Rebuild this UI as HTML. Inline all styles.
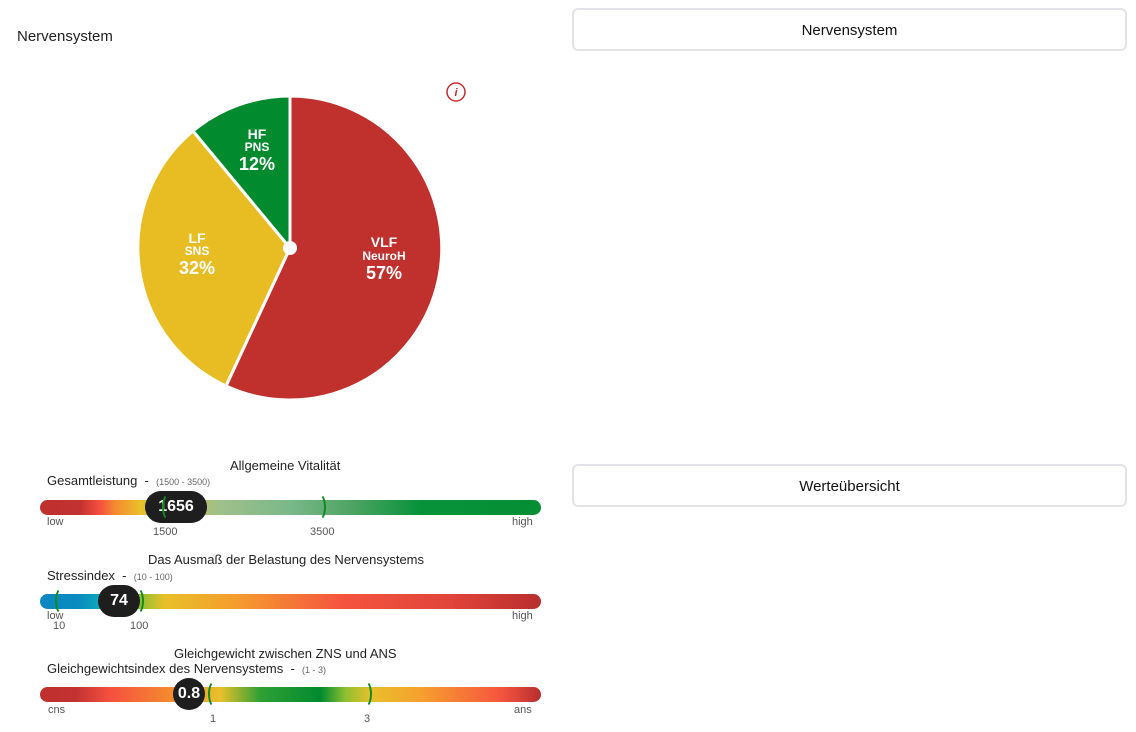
<!DOCTYPE html>
<html><head><meta charset="utf-8">
<style>
*{margin:0;padding:0;box-sizing:border-box}
body{width:1136px;height:732px;background:#fff;position:relative;font-family:"Liberation Sans",sans-serif;color:#222;overflow:hidden}
.abs{position:absolute}
.btn{position:absolute;left:572px;width:555px;height:43px;border:2px solid #e2e2e8;border-radius:6px;font-size:15px;text-align:center;line-height:41px;color:#111}
.bar{position:absolute;left:40px;width:501px;height:15px;border-radius:8px}
.t{position:absolute;font-size:13px;white-space:nowrap}
.s{position:absolute;font-size:11px;color:#555;white-space:nowrap}
.r{font-size:9px;color:#666}
.badge{position:absolute;background:#1e1e1e;color:#fff;font-weight:bold;font-size:16px;text-align:center;border-radius:16px}
.br{position:absolute;width:14px;height:28px;border:2px solid #118a22;border-radius:50%}
</style></head><body>
<div class="abs" style="left:17px;top:28px;font-size:15px">Nervensystem</div>
<div class="btn" style="top:8px">Nervensystem</div>
<div class="btn" style="top:464px">Werteübersicht</div>

<svg class="abs" style="left:0;top:0" width="560" height="440">
<path d="M290,248 L290,96 A152,152 0 1 1 226,386 Z" fill="#c0302c" stroke="#fff" stroke-width="3"/>
<path d="M290,248 L226,386 A152,152 0 0 1 193,131 Z" fill="#e8bd24" stroke="#fff" stroke-width="3"/>
<path d="M290,248 L193,131 A152,152 0 0 1 290,96 Z" fill="#028a2f" stroke="#fff" stroke-width="3"/>
<circle cx="290" cy="248" r="7" fill="#fff"/>
<g fill="#fff" font-family="Liberation Sans,sans-serif" text-anchor="middle" font-weight="bold">
<text x="257" y="139" font-size="14">HF</text><text x="257" y="151" font-size="12">PNS</text><text x="257" y="170" font-size="18">12%</text>
<text x="197" y="243" font-size="14">LF</text><text x="197" y="255" font-size="12">SNS</text><text x="197" y="274" font-size="18">32%</text>
<text x="384" y="247" font-size="14">VLF</text><text x="384" y="260" font-size="12">NeuroH</text><text x="384" y="279" font-size="18">57%</text>
</g>
<circle cx="456" cy="92" r="9" fill="none" stroke="#c0302c" stroke-width="1.5"/>
<text x="456" y="96" font-size="11" fill="#c0302c" text-anchor="middle" font-style="italic" font-weight="bold">i</text>
</svg>

<!-- bar 1 -->
<div class="t" style="left:230px;top:458px">Allgemeine Vitalität</div>
<div class="t" style="left:47px;top:473px">Gesamtleistung &nbsp;- &nbsp;<span class="r">(1500 - 3500)</span></div>
<div class="bar" style="top:500px;background:linear-gradient(90deg,#bf2f2c 0%,#c23230 8%,#f5503f 12%,#f58a2f 15%,#e8c02a 20%,#c9c24a 26%,#9fc08a 36%,#7ab88a 50%,#4fa464 62%,#07923a 76%,#068e34 100%)"></div>
<div class="badge" style="left:145px;top:491px;width:62px;height:32px;line-height:32px">1656</div>
<div class="br" style="left:162px;top:493px;border-color:transparent transparent transparent #118a22"></div>
<div class="br" style="left:312px;top:493px;border-color:transparent #118a22 transparent transparent"></div>
<div class="s" style="left:47px;top:516px">low</div>
<div class="s" style="left:512px;top:516px">high</div>
<div class="s" style="left:153px;top:526px">1500</div>
<div class="s" style="left:310px;top:526px">3500</div>

<!-- bar 2 -->
<div class="t" style="left:148px;top:552px">Das Ausmaß der Belastung des Nervensystems</div>
<div class="t" style="left:47px;top:568px">Stressindex &nbsp;- &nbsp;<span class="r">(10 - 100)</span></div>
<div class="bar" style="top:594px;background:linear-gradient(90deg,#0a86c0 0%,#0a8cbf 8%,#10b0b8 13%,#8fc030 20%,#e8c02a 25%,#f59a2e 40%,#f5553f 60%,#e0443a 82%,#b82e2e 100%)"></div>
<div class="badge" style="left:98px;top:585px;width:42px;height:32px;line-height:32px">74</div>
<div class="br" style="left:55px;top:587px;border-color:transparent transparent transparent #118a22"></div>
<div class="br" style="left:130px;top:587px;border-color:transparent #118a22 transparent transparent"></div>
<div class="s" style="left:47px;top:610px">low</div>
<div class="s" style="left:512px;top:610px">high</div>
<div class="s" style="left:53px;top:620px">10</div>
<div class="s" style="left:130px;top:620px">100</div>

<!-- bar 3 -->
<div class="t" style="left:174px;top:646px">Gleichgewicht zwischen ZNS und ANS</div>
<div class="t" style="left:47px;top:661px">Gleichgewichtsindex des Nervensystems &nbsp;- &nbsp;<span class="r">(1 - 3)</span></div>
<div class="bar" style="top:687px;background:linear-gradient(90deg,#bf2f2c 0%,#c23230 7%,#f5503f 14%,#f58a2f 26%,#e8c02a 36%,#2fa035 44%,#028a2f 56%,#8fc030 61%,#e8c02a 66%,#f5a02e 76%,#f5553f 92%,#b82e2e 100%)"></div>
<div class="badge" style="left:173px;top:678px;width:32px;height:32px;line-height:32px;border-radius:50%">0.8</div>
<div class="br" style="left:208px;top:680px;border-color:transparent transparent transparent #118a22"></div>
<div class="br" style="left:358px;top:680px;border-color:transparent #118a22 transparent transparent"></div>
<div class="s" style="left:48px;top:704px">cns</div>
<div class="s" style="left:514px;top:704px">ans</div>
<div class="s" style="left:210px;top:713px">1</div>
<div class="s" style="left:364px;top:713px">3</div>
</body></html>
